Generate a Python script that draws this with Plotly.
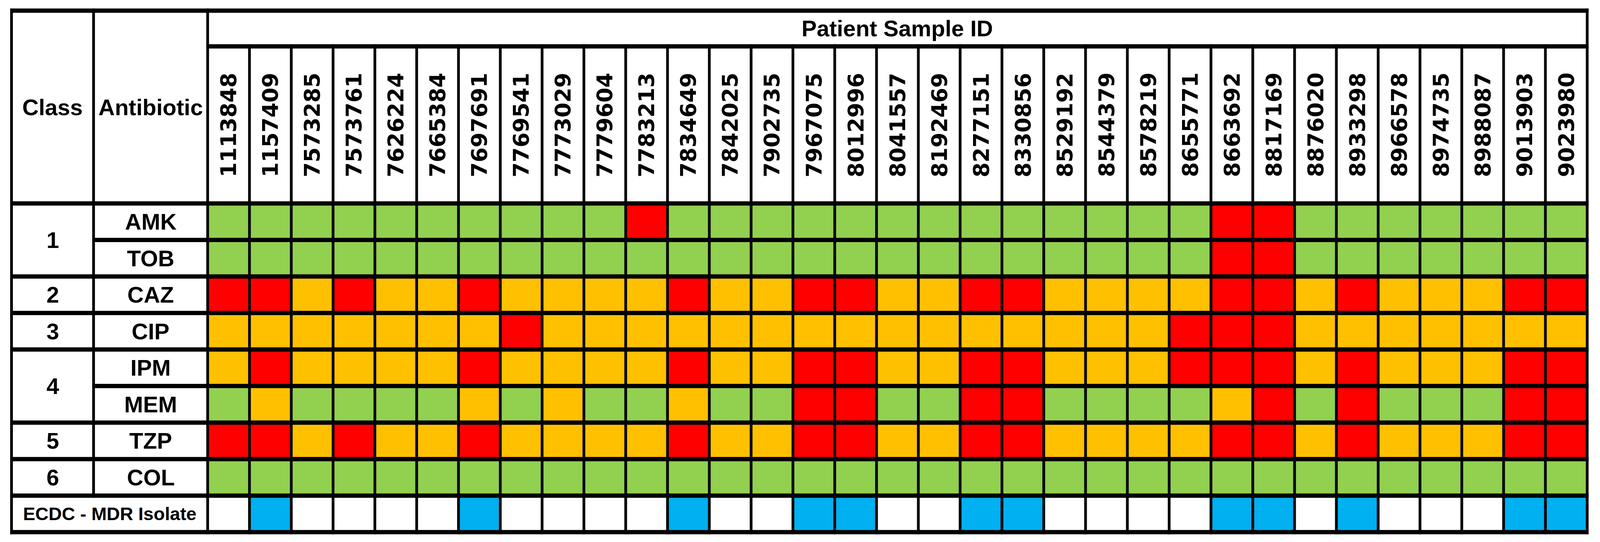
import plotly.graph_objects as go

patient_ids = [
    "1113848", "1157409", "7573285", "7573761", "7626224", "7665384",
    "7697691", "7769541", "7773029", "7779604", "7783213", "7834649",
    "7842025", "7902735", "7967075", "8012996", "8041557", "8192469",
    "8277151", "8330856", "8529192", "8544379", "8578219", "8655771",
    "8663692", "8817169", "8876020", "8933298", "8966578", "8974735",
    "8988087", "9013903", "9023980",
]
antibiotics = ["AMK", "TOB", "CAZ", "CIP", "IPM", "MEM", "TZP", "COL"]
class_labels = ["1", "2", "3", "4", "5", "6"]
class_sizes = [2, 1, 1, 2, 1, 1]   # antibiotics per class
mdr_label = "ECDC - MDR Isolate"

# one letter per patient: G susceptible, O intermediate, R resistant
amk = "GGGGGGGGGGRGGGGGGGGGGGGGRRGGGGGGG"
tob = "GGGGGGGGGGGGGGGGGGGGGGGGRRGGGGGGG"
caz = "RRORO" "OROOO" "OROOR" "ROORR" "OOOOR" "ROROO" "ORR"
cip = "OOOOO" "OOROO" "OOOOO" "OOOOO" "OOORR" "ROOOO" "OOO"
ipm = "OROOO" "OROOO" "OROOR" "ROORR" "OOORR" "ROROO" "ORR"
mem = "GOGGG" "GOGOG" "GOGGR" "RGGRR" "GGGGO" "RGRGG" "GRR"
tzp = "RRORO" "OROOO" "OROOR" "ROORR" "OOOOR" "ROROO" "ORR"
col = "GGGGGGGGGGGGGGGGGGGGGGGGGGGGGGGGG"
# B = isolate flagged multidrug resistant (ECDC), W = not
mdr = "WBWWW" "WBWWW" "WBWWB" "BWWBB" "WWWWB" "BWBWW" "WBB"

rows = [amk, tob, caz, cip, ipm, mem, tzp, col, mdr]

# ---- colours / fonts ----
colors = {"W": "#FFFFFF", "G": "#92D050", "O": "#FFC000", "R": "#FF0000", "B": "#00B0F0"}
order = ["W", "G", "O", "R", "B"]
code = {k: i for i, k in enumerate(order)}
n = len(order)
colorscale = []
for i, k in enumerate(order):
    colorscale.append([i / n, colors[k]])
    colorscale.append([(i + 1) / n, colors[k]])

LABEL_FONT = dict(family="Liberation Sans, Arial, sans-serif", size=58, color="black", weight="bold")
SMALL_FONT = dict(LABEL_FONT, size=47)
ID_FONT = dict(family="DejaVu Sans, Arial, sans-serif", size=55, color="black", weight="bold")

# ---- table geometry (column units / row units) ----
n_cols = len(patient_ids)
n_rows = len(rows)
ABX_W, CLASS_W = 2.729, 1.963
ID_H, PSI_H = 4.30, 0.98
x_data = -0.5
x_abx = x_data - ABX_W
x_left = x_abx - CLASS_W
x_right = n_cols - 0.5
y_data = -0.5
y_psi = y_data - ID_H
y_top = y_psi - PSI_H
y_bottom = n_rows - 0.5

# plot area placed as a fraction of the page
W_PX, H_PX = 4932, 1388
VIEW_W = 4096          # width the page actually gets in the browser
x_range = [x_left - 0.108, x_right + 0.1]
y_range = [y_bottom + 0.1, y_top - 0.12]
dom_x = [12 / W_PX, 1 - 17 / W_PX]
dom_y = [8 / H_PX, 1 - 8 / H_PX]
px_x = VIEW_W * (dom_x[1] - dom_x[0]) / (x_range[1] - x_range[0])
px_y = H_PX * (dom_y[1] - dom_y[0]) / (y_range[0] - y_range[1])
H_LW, V_LW = 11, 7
hx = V_LW / 2 / px_x   # overhang so the corners close
hy = H_LW / 2 / px_y

fig = go.Figure()

fig.add_trace(go.Heatmap(
    z=[[code[c] for c in r] for r in rows],
    x=list(range(n_cols)),
    y=list(range(n_rows)),
    colorscale=colorscale,
    zmin=-0.5, zmax=n - 0.5,
    showscale=False,
    hoverinfo="skip",
))

shapes = []


def hline(y, x0, x1):
    shapes.append(dict(type="line", x0=x0 - hx, x1=x1 + hx, y0=y, y1=y,
                       line=dict(color="black", width=H_LW)))


def vline(x, y0, y1):
    shapes.append(dict(type="line", x0=x, x1=x, y0=y0 - hy, y1=y1 + hy,
                       line=dict(color="black", width=V_LW)))


# horizontal rules: full width between classes, narrower inside a class
hline(y_top, x_left, x_right)
hline(y_psi, x_data, x_right)
hline(y_data, x_left, x_right)
r = 0
for size in class_sizes:
    for k in range(1, size):
        hline(r + k - 0.5, x_abx, x_right)
    r += size
    hline(r - 0.5, x_left, x_right)
hline(y_bottom, x_left, x_right)

# vertical rules
vline(x_left, y_top, y_bottom)
vline(x_right, y_top, y_bottom)
vline(x_data, y_top, y_bottom)
vline(x_abx, y_top, len(antibiotics) - 0.5)
for i in range(1, n_cols):
    vline(i - 0.5, y_psi, y_bottom)

ann = []
x_class = (x_left + x_abx) / 2
x_ab = (x_abx + x_data) / 2
ann.append(dict(x=x_class, y=(y_top + y_data) / 2, text="Class", font=LABEL_FONT))
ann.append(dict(x=x_ab, y=(y_top + y_data) / 2, text="Antibiotic", font=LABEL_FONT))
ann.append(dict(x=(x_data + x_right) / 2, y=(y_top + y_psi) / 2,
                text="Patient Sample ID", font=LABEL_FONT))
for i, pid in enumerate(patient_ids):
    ann.append(dict(x=i, y=(y_psi + y_data) / 2, text=pid, textangle=-90, font=ID_FONT))
for j, ab in enumerate(antibiotics):
    ann.append(dict(x=x_ab, y=j, text=ab, font=LABEL_FONT))
r = 0
for lab, size in zip(class_labels, class_sizes):
    ann.append(dict(x=x_class, y=r + (size - 1) / 2, text=lab, font=LABEL_FONT))
    r += size
ann.append(dict(x=(x_left + x_data) / 2, y=n_rows - 1, text=mdr_label, font=SMALL_FONT))

for a in ann:
    a.update(xref="x", yref="y", showarrow=False, xanchor="center", yanchor="middle")

fig.update_layout(
    margin=dict(l=0, r=0, t=0, b=0, pad=0),
    paper_bgcolor="white",
    plot_bgcolor="white",
    shapes=shapes,
    annotations=ann,
    xaxis=dict(range=x_range, domain=dom_x, visible=False, fixedrange=True),
    yaxis=dict(range=y_range, domain=dom_y, visible=False, fixedrange=True),
    showlegend=False,
)

fig.write_html("out.html")
